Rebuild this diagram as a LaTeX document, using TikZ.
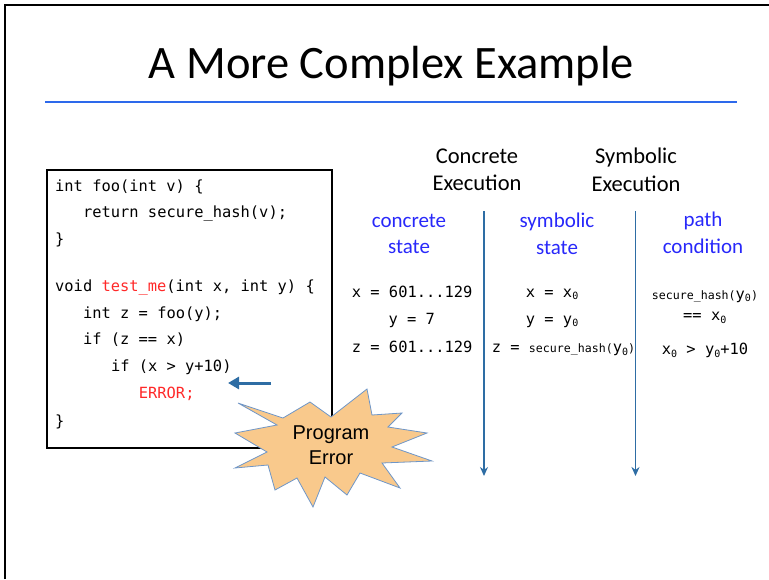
\documentclass[tikz,border=0pt]{standalone}
\usepackage{fontspec}
\setmainfont{Carlito}
\newfontfamily\codefont{DejaVu Sans Mono}
\newfontfamily\burstfont{Liberation Sans}
\usetikzlibrary{arrows.meta}

\definecolor{ruleblue}{RGB}{45,105,235}
\definecolor{labblue}{RGB}{40,40,250}
\definecolor{steel}{RGB}{46,109,164}
\definecolor{errred}{RGB}{255,40,40}
\definecolor{burstfill}{RGB}{249,201,140}
\definecolor{burstline}{RGB}{110,150,200}

% subscript zero and the small hash call
\newcommand{\zsub}{\raisebox{-0.35ex}{\fontsize{10}{10}\selectfont 0}}
\newcommand{\smallhash}{{\fontsize{11.6}{12}\selectfont secure\_hash(}}

\begin{document}
\begin{tikzpicture}[x=1pt,y=-1pt,
    code/.style={anchor=base west, inner sep=0pt, font=\codefont\fontsize{15.4}{18}\selectfont},
    head/.style={align=center, inner sep=0pt, font=\fontsize{22.5}{27.5}\selectfont},
    lab/.style={align=center, inner sep=0pt, text=labblue, font=\fontsize{21}{26.5}\selectfont},
    flow/.style={draw=steel, line width=1.5pt, -{Stealth[length=9pt,width=8pt]}}]
  \useasboundingbox (0,0) rectangle (769,579);

  % slide frame and title
  \draw[line width=2pt] (5,579) -- (5,5) -- (769,5);
  \node[anchor=base, inner sep=0pt, font=\fontsize{46.5}{50}\selectfont] (title) at (391.5,78) {A More Complex Example};
  \draw[ruleblue, line width=2.5pt] (45,102) -- (737,102);

  % code box
  \draw[line width=1.2pt] (47,170) rectangle (332,448);
  \node[code] (c1) at (55,191.5) {int foo(int v) \{};
  \node[code] (c2) at (82.9,217.5) {return secure\_hash(v);};
  \node[code] (c3) at (55,244.5) {\}};
  \node[code] (c4) at (55,291.5) {void \textcolor{errred}{test\_me}(int x, int y) \{};
  \node[code] (c5) at (82.9,318) {int z = foo(y);};
  \node[code] (c6) at (82.9,344.5) {if (z == x)};
  \node[code] (c7) at (110.8,371.5) {if (x > y+10)};
  \node[code, text=errred] (c8) at (138.7,398) {ERROR;};
  \node[code] (c9) at (55,426) {\}};

  % pointer to the error line
  \coordinate (ptail) at (271,383);
  \coordinate (phead) at (228,383);
  \draw[steel, line width=3pt, -{Triangle[length=11pt,width=12pt]}] (ptail) -- (phead);

  % starburst
  \filldraw[fill=burstfill, draw=burstline, line width=0.8pt]
    (238,403) -- (283,418) -- (310,402) -- (331,417) -- (367,389) -- (372,415)
    -- (402,413) -- (388,427) -- (427,433) -- (392,447) -- (432,461) -- (382,463)
    -- (400,488) -- (360,473) -- (347,495) -- (325,477) -- (313,507) -- (297,478)
    -- (275,490) -- (268,465) -- (235,468) -- (267,452) -- (235,433) -- (277,425) -- cycle;
  \node[align=center, inner sep=0pt, font=\burstfont\fontsize{20}{25}\selectfont] (err) at (331,445.5) {Program\\Error};

  % column headings
  \node[head] (conc) at (477,170) {Concrete\\Execution};
  \node[head] (symb) at (636,170) {Symbolic\\Execution};
  \node[lab] (cstate) at (409,234) {concrete\\state};
  \node[lab] (sstate) at (557,234) {symbolic\\state};
  \node[lab] (pcond) at (703,233) {path\\condition};

  % time lines
  \coordinate (ctop) at (484,211);
  \coordinate (cbot) at (484,476);
  \coordinate (stop) at (635.5,211);
  \coordinate (sbot) at (635.5,476);
  \draw[flow] (ctop) -- (cbot);
  \draw[flow] (stop) -- (sbot);

  % concrete state
  \node[code] (cx) at (351.7,297) {x = 601...129};
  \node[code] (cy) at (388.3,324) {y = 7};
  \node[code] (cz) at (351.7,352.5) {z = 601...129};

  % symbolic state
  \node[code] (sx) at (525.7,297) {x = x\zsub};
  \node[code] (sy) at (525.7,324) {y = y\zsub};
  \node[code] (sz) at (491.7,352.5) {z = \smallhash y\zsub{\fontsize{11.6}{12}\selectfont)}};

  % path condition
  \node[code] (p1) at (651.7,299) {\smallhash y\zsub{\fontsize{11.6}{12}\selectfont)}};
  \node[code] (p2) at (683,320.5) {== x\zsub};
  \node[code] (p3) at (661.7,354.5) {x\zsub{} > y\zsub+10};
\end{tikzpicture}
\end{document}
